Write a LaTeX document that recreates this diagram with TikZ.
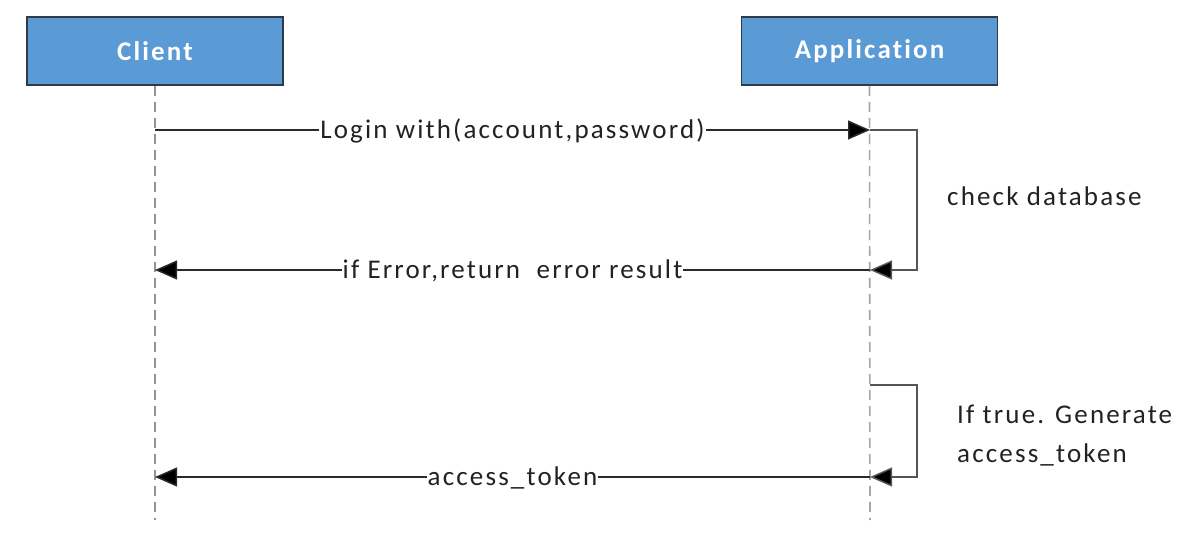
\documentclass[tikz,border=0pt]{standalone}
\usepackage{fontspec}
\setmainfont{Carlito}[LetterSpace=8,Ligatures=NoCommon]
\usetikzlibrary{arrows.meta}
\definecolor{boxfill}{HTML}{5B9BD5}
\definecolor{boxline}{HTML}{2E3A48}
\definecolor{lineg}{HTML}{2A2A2A}
\definecolor{loopg}{HTML}{555555}
\definecolor{txt}{HTML}{222222}
\begin{document}
\begin{tikzpicture}[x=1pt,y=-1pt,
  tip/.style={-{Triangle[length=22pt,width=19pt,fill=black]}},
  actor/.style={draw=boxline,line width=1.6pt,fill=boxfill,minimum width=256pt,minimum height=68pt,inner sep=0pt,text=white,font=\fontsize{27}{31}\selectfont\bfseries},
  life/.style={draw=gray!85,dash pattern=on 10pt off 6pt,line width=1.6pt},
  msg/.style={draw=lineg,line width=1.5pt,tip},
  loopl/.style={draw=loopg,line width=1.5pt,tip},
  lbl/.style={fill=white,inner sep=1pt,text=txt,font=\fontsize{27}{31}\selectfont},
  note/.style={text=txt,font=\fontsize{27}{39}\selectfont,align=left,inner sep=0pt}]
\useasboundingbox (0,0) rectangle (1194,538);
\node[actor] (client) at (155,51) {Client};
\node[actor] (app) at (869.5,51) {Application};
\coordinate (cend) at (155,520);
\coordinate (aend) at (870,520);
\draw[life] (client.south) -- (cend);
\draw[life,draw=gray!70] (app.south) -- (aend);
% message 1
\coordinate (c1) at (155,130);
\coordinate (a1) at (870,130);
\draw[msg] (c1) -- node[lbl,yshift=-1pt] (m1) {Login with(account,password)} (a1);
% self loop 1
\coordinate (a2) at (870,270);
\coordinate (c2) at (155,270);
\draw[loopl] (a1) -- ++(47,0) |- (a2);
\node[note,anchor=west] (n1) at (947,196) {check database};
% message 2
\draw[msg] (a2) -- node[lbl,yshift=-1pt] (m2) {if Error,return\ \ error result} (c2);
% self loop 2
\coordinate (a3) at (870,385);
\coordinate (a4) at (870,477);
\coordinate (c4) at (155,477);
\draw[loopl] (a3) -- ++(47,0) |- (a4);
\node[note,anchor=west] (n2) at (957,436) {If true. Generate\\access\_token};
% message 3
\draw[msg] (a4) -- node[lbl,yshift=-1pt] (m3) {access\_token} (c4);
\end{tikzpicture}
\end{document}
